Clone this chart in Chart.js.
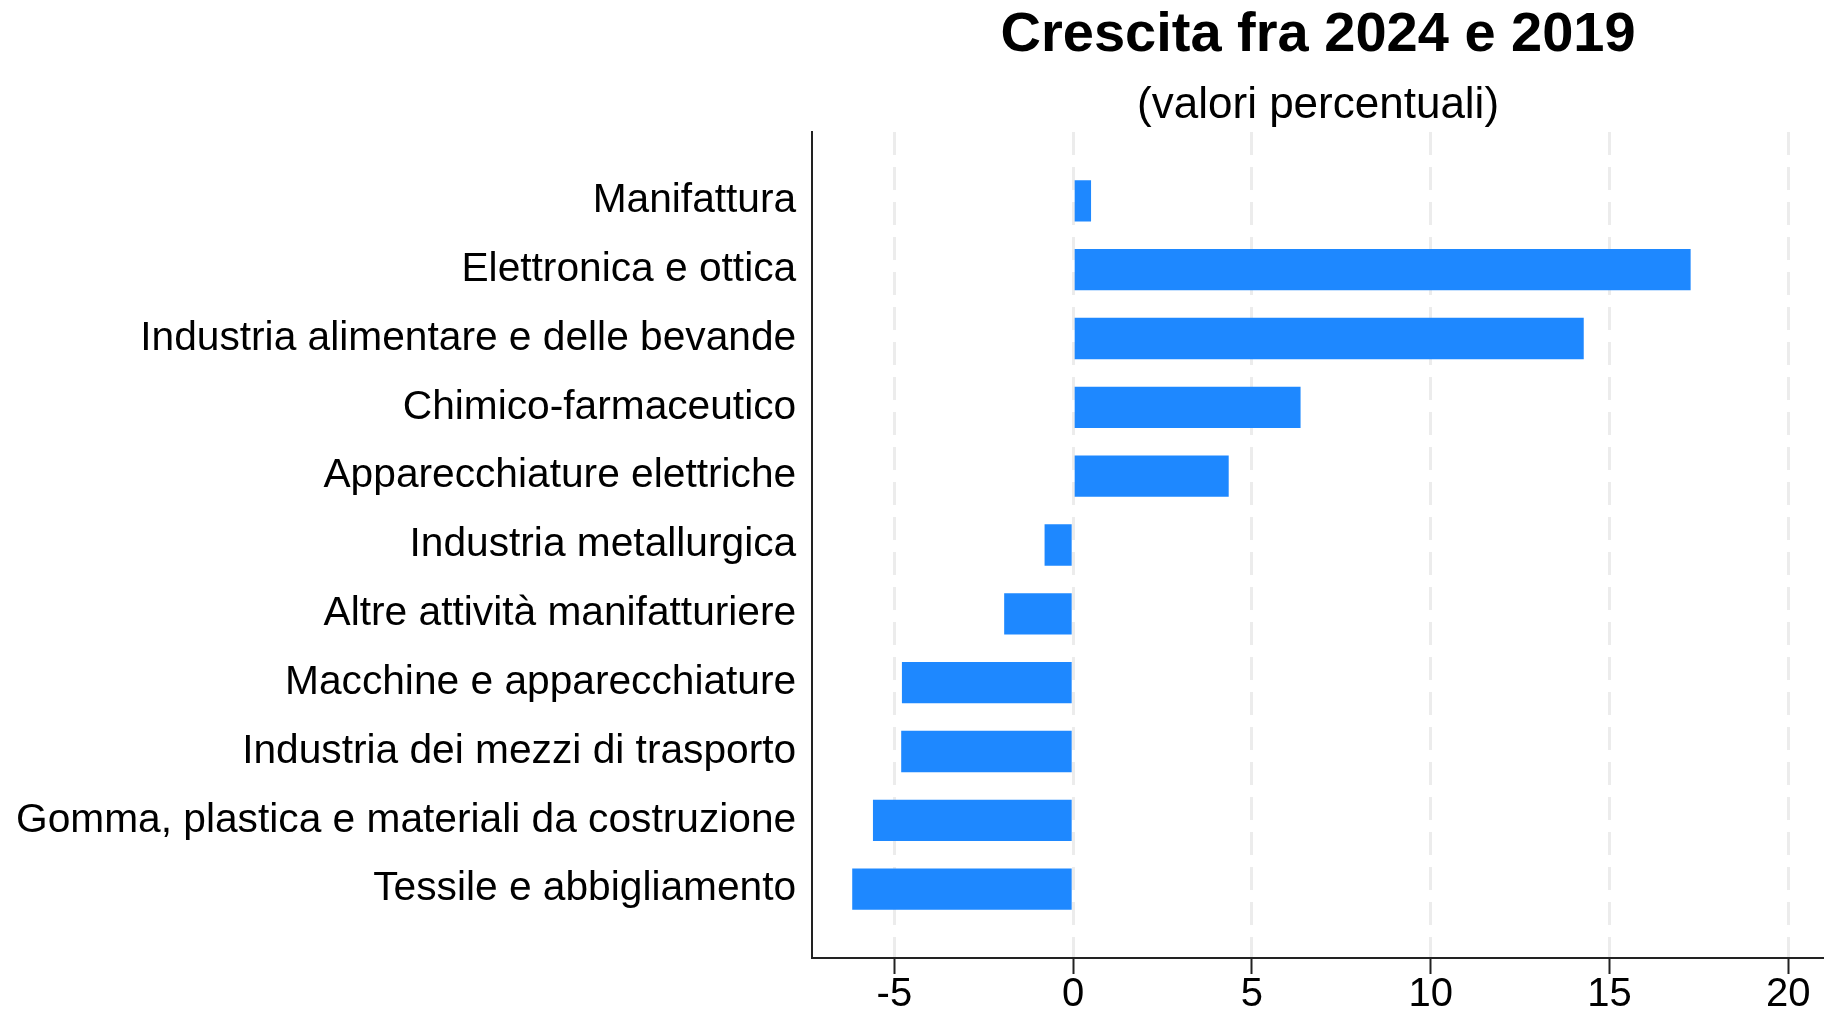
<!DOCTYPE html>
<html>
<head>
<meta charset="utf-8">
<script src="https://cdn.jsdelivr.net/npm/chart.js@4/dist/chart.umd.min.js"></script>
<style>
  html, body { margin: 0; padding: 0; background: #fff; }
  #wrap { width: 1824px; height: 1016px; }
</style>
</head>
<body>
<div id="wrap"><canvas id="grafico"></canvas></div>
<script>
const settori = [
  'Manifattura',
  'Elettronica e ottica',
  'Industria alimentare e delle bevande',
  'Chimico-farmaceutico',
  'Apparecchiature elettriche',
  'Industria metallurgica',
  'Altre attività manifatturiere',
  'Macchine e apparecchiature',
  'Industria dei mezzi di trasporto',
  'Gomma, plastica e materiali da costruzione',
  'Tessile e abbigliamento'
];
const crescita = [0.5, 17.27, 14.28, 6.36, 4.35, -0.8, -1.93, -4.79, -4.81, -5.6, -6.18];
const tickX = [-5, 0, 5, 10, 15, 20];
const minX = -7.3;
const maxX = 21;

const fontBase = "'Liberation Sans', Arial, Helvetica, sans-serif";

const ctx = document.getElementById('grafico').getContext('2d');
new Chart(ctx, {
  type: 'bar',
  data: {
    labels: settori,
    datasets: [{
      data: crescita,
      backgroundColor: '#1e88ff',
      borderWidth: 0,
      categoryPercentage: 1,
      barPercentage: 0.6
    }]
  },
  options: {
    indexAxis: 'y',
    responsive: true,
    maintainAspectRatio: false,
    animation: false,
    layout: { padding: { top: 0, right: 0, bottom: 0, left: 0 } },
    plugins: {
      legend: { display: false },
      tooltip: { enabled: false },
      title: {
        display: true,
        text: 'Crescita fra 2024 e 2019',
        color: '#000',
        fullSize: false,
        font: { family: fontBase, size: 56, weight: 'bold' },
        padding: { top: 2, bottom: 10 }
      },
      subtitle: {
        display: true,
        text: '(valori percentuali)',
        color: '#000',
        fullSize: false,
        font: { family: fontBase, size: 44 },
        padding: { top: 0, bottom: 0 }
      }
    },
    scales: {
      x: {
        type: 'linear',
        min: minX,
        max: maxX,
        afterBuildTicks: scale => { scale.ticks = tickX.map(v => ({ value: v })); },
        grid: {
          display: true,
          color: '#ececec',
          lineWidth: 3,
          drawTicks: true,
          tickLength: 16,
          tickColor: '#222',
          tickWidth: 2
        },
        border: { display: true, color: '#222', width: 2, dash: [23, 12] },
        ticks: {
          color: '#000',
          padding: 3,
          maxRotation: 0,
          font: { family: fontBase, size: 40, lineHeight: 0.9 }
        }
      },
      y: {
        grid: { display: false, drawTicks: false },
        border: { display: true, color: '#222', width: 2 },
        afterBuildTicks: scale => {
          // lascia mezzo spazio in più sopra e sotto le categorie
          scale._startValue = -1;
          scale._valueRange = settori.length + 1;
        },
        ticks: {
          color: '#000',
          padding: 16,
          autoSkip: false,
          font: { family: fontBase, size: 40.7 }
        }
      }
    }
  }
});
</script>
</body>
</html>
